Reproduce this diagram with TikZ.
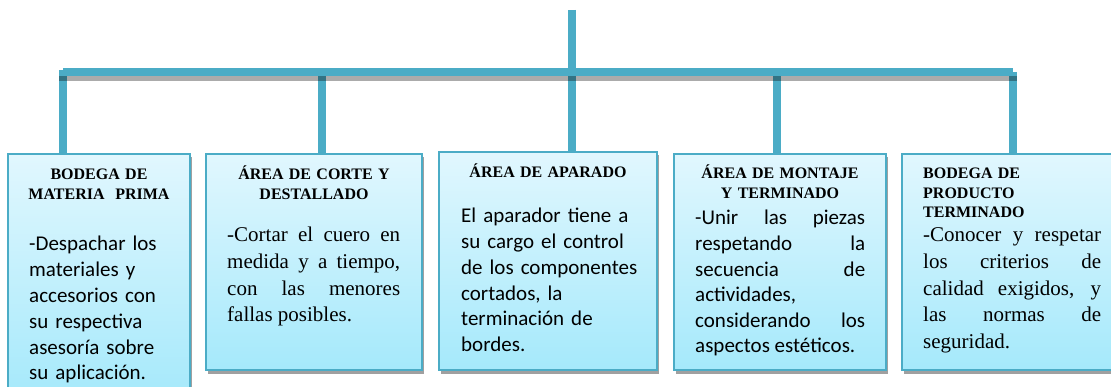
\documentclass[tikz,border=0pt]{standalone}
\usepackage{fontspec}
\setmainfont{Liberation Serif}
\newfontfamily\calibrifont{Carlito}
\tolerance=10000 \hbadness=10000
\definecolor{aqua}{HTML}{4BACC6}
\definecolor{boxtop}{HTML}{E1F7FE}
\definecolor{boxbot}{HTML}{A5E9FB}
\definecolor{shadowgray}{HTML}{A0A0A0}
\tikzset{
  conn/.style={draw=aqua, line width=8pt, line cap=butt},
  areabox/.style={draw=aqua, line width=2pt, top color=boxtop, bottom color=boxbot, inner sep=0pt,
    preaction={fill=shadowgray, transform canvas={xshift=1.5pt, yshift=-3.5pt}}},
  head/.style={inner sep=0pt, anchor=base, align=center, font=\bfseries\fontsize{16}{20}\selectfont},
  headleft/.style={inner sep=0pt, anchor=base west, align=left, font=\bfseries\fontsize{16}{19.5}\selectfont},
  bodycal/.style={inner sep=0pt, anchor=base west, align=left, font=\calibrifont\fontsize{21}{25.8}\selectfont},
  bodycalj/.style={inner sep=0pt, anchor=base west, align=justify, font=\calibrifont\fontsize{21}{25.6}\selectfont},
  bodytimes/.style={inner sep=0pt, anchor=base west, align=justify, font=\fontsize{21}{26.6}\selectfont},
}
\begin{document}
\begin{tikzpicture}[x=1pt, y=-1pt]
\clip (0,0) rectangle (1111,387);
\fill[white] (0,0) rectangle (1111,387);

% boxes
\node[areabox, minimum width=182pt, minimum height=246pt] (b1) at (99,277) {};
\node[areabox, minimum width=216pt, minimum height=216pt] (b2) at (314,262) {};
\node[areabox, minimum width=218pt, minimum height=218pt] (b3) at (548,261) {};
\node[areabox, minimum width=212pt, minimum height=216pt] (b4) at (780,262) {};
\node[areabox, minimum width=220pt, minimum height=216pt] (b5) at (1012,262) {};

% connectors
\coordinate (top) at (572,10);
\coordinate (d1) at (63,72);
\coordinate (d2) at (322,72);
\coordinate (d3) at (572,72);
\coordinate (d4) at (777,72);
\coordinate (d5) at (1013,72);
\draw[conn] (top) -- (d3);
\draw[conn] (d1) -- (d5);
\draw[conn] (63,70) -- (d1 |- b1.north);
\draw[conn] (d2) -- (d2 |- b2.north);
\draw[conn] (d3) -- (d3 |- b3.north);
\draw[conn] (d4) -- (d4 |- b4.north);
\draw[conn] (d5) -- (d5 |- b5.north);
\fill[black, opacity=0.33] (59,76) rectangle (1017,81);

% titles
\node[head, text width=182pt] (h1) at (99,180) {BODEGA DE\\MATERIA~ PRIMA};
\node[head, text width=216pt] (h2) at (314,180) {ÁREA DE CORTE Y\\DESTALLADO};
\node[head, text width=218pt] (h3) at (548,178) {ÁREA DE APARADO};
\node[head, text width=212pt] (h4) at (780,179) {ÁREA DE MONTAJE\\Y TERMINADO};
\node[headleft, text width=180pt] (h5) at (923,179) {BODEGA DE\\PRODUCTO\\TERMINADO};

% bodies
\node[bodycal, text width=155pt] (t1) at (29,251) {-Despachar los\\materiales y\\accesorios con\\su respectiva\\asesoría sobre\\su aplicación.};
\node[bodytimes, text width=173pt] (t2) at (227,242) {-Cortar el cuero en\linebreak medida y a tiempo,\linebreak con las menores\linebreak fallas posibles.};
\node[bodycal, text width=190pt] (t3) at (461,222.7) {El aparador tiene a\\su cargo el control\\de los componentes\\cortados, la\\terminación de\\bordes.};
\node[bodycalj, text width=170pt] (t4) at (695,225) {-Unir las piezas\linebreak respetando la\linebreak secuencia de\linebreak actividades,\linebreak considerando los\linebreak aspectos estéticos.};
\node[bodytimes, text width=178pt] (t5) at (923,242) {-Conocer y respetar\linebreak los criterios de\linebreak calidad exigidos, y\linebreak las normas de\linebreak seguridad.};
\end{tikzpicture}
\end{document}
